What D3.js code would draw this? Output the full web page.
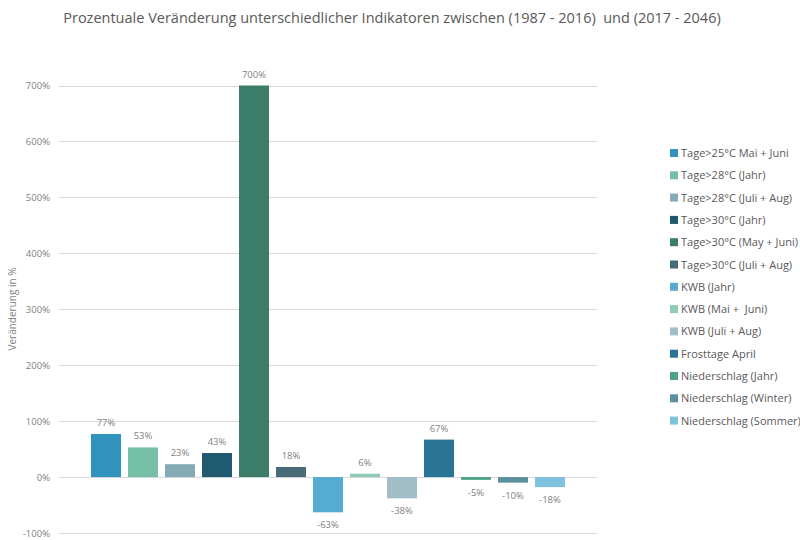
<!DOCTYPE html>
<html>
<head>
<meta charset="utf-8">
<script src="https://cdn.jsdelivr.net/npm/d3@7"></script>
<style>
  body { margin: 0; background: #fff; }
  svg text { font-family: "Open Sans", "DejaVu Sans", sans-serif; white-space: pre; }
</style>
</head>
<body>
<div id="chart"></div>
<script>
// series (one category, 13 series)
var names = ["Tage>25°C Mai + Juni", "Tage>28°C (Jahr)", "Tage>28°C (Juli + Aug)", "Tage>30°C (Jahr)",
  "Tage>30°C (May + Juni)", "Tage>30°C (Juli + Aug)", "KWB (Jahr)", "KWB (Mai +  Juni)",
  "KWB (Juli + Aug)", "Frosttage April", "Niederschlag (Jahr)", "Niederschlag (Winter)", "Niederschlag (Sommer)"];
var values = [77, 53, 23, 43, 700, 18, -63, 6, -38, 67, -5, -10, -18];
var colors = ["#3193bd", "#75bfa6", "#85acb6", "#205a70", "#3b7d69", "#476b77", "#56abd0",
  "#90cbb5", "#a0bdc8", "#2a7596", "#4ea387", "#5c909e", "#7fc2dd"];
var yTicks = [-100, 0, 100, 200, 300, 400, 500, 600, 700];

var width = 800, height = 540;
var plot = {left: 59, right: 597};

var svg = d3.select("#chart").append("svg")
  .attr("width", width)
  .attr("height", height);

var yScale = d3.scaleLinear()
  .domain([-100, 700])
  .range([533, 85.5]);

var xScale = d3.scaleBand()
  .domain(names)
  .range([91, 565])
  .paddingInner(0.19)
  .paddingOuter(0);

// gridlines
svg.append("g")
  .selectAll("line")
  .data(yTicks)
  .enter().append("line")
  .attr("x1", plot.left)
  .attr("x2", plot.right)
  .attr("y1", function(d){ return Math.round(yScale(d)) + 0.5; })
  .attr("y2", function(d){ return Math.round(yScale(d)) + 0.5; })
  .attr("stroke", "#d9d9d9")
  .attr("stroke-width", 1);

// y axis labels
var yAxis = d3.axisLeft(yScale)
  .tickValues(yTicks)
  .tickFormat(function(d){ return d + "%"; })
  .tickSize(0)
  .tickPadding(0);

var ya = svg.append("g")
  .attr("transform", "translate(50,0)")
  .call(yAxis);
ya.select(".domain").remove();
ya.selectAll("text")
  .attr("fill", "#7f7f7f")
  .style("font-size", "9.5px");

// y title
svg.append("text")
  .attr("transform", "translate(16,309) rotate(-90)")
  .attr("text-anchor", "middle")
  .attr("fill", "#7f7f7f")
  .style("font-size", "10px")
  .text("Veränderung in %");

// bars
svg.append("g")
  .selectAll("rect")
  .data(values)
  .enter().append("rect")
  .attr("x", function(d, i){ return xScale(names[i]); })
  .attr("width", xScale.bandwidth())
  .attr("y", function(d){ return yScale(Math.max(d, 0)); })
  .attr("height", function(d){ return Math.abs(yScale(d) - yScale(0)); })
  .attr("fill", function(d, i){ return colors[i]; });

// data labels
svg.append("g")
  .selectAll("text")
  .data(values)
  .enter().append("text")
  .attr("x", function(d, i){ return xScale(names[i]) + xScale.bandwidth() / 2; })
  .attr("y", function(d){ return d >= 0 ? yScale(d) - 8 : yScale(d) + 16; })
  .attr("text-anchor", "middle")
  .attr("fill", "#7f7f7f")
  .style("font-size", "9.5px")
  .text(function(d){ return d + "%"; });

// legend
var legend = svg.append("g")
  .selectAll("g")
  .data(names)
  .enter().append("g")
  .attr("transform", function(d, i){ return "translate(670," + (153 + i * 22.3) + ")"; });

legend.append("rect")
  .attr("x", 0)
  .attr("y", -4)
  .attr("width", 8)
  .attr("height", 8)
  .attr("fill", function(d, i){ return colors[i]; });

legend.append("text")
  .attr("x", 11)
  .attr("y", 4)
  .attr("fill", "#595959")
  .style("font-size", "11px")
  .text(function(d){ return d; });

// title
svg.append("text")
  .attr("x", 392)
  .attr("y", 23)
  .attr("text-anchor", "middle")
  .attr("fill", "#595959")
  .style("font-size", "14.5px")
  .text("Prozentuale Veränderung unterschiedlicher Indikatoren zwischen (1987 - 2016)  und (2017 - 2046)");
</script>
</body>
</html>
